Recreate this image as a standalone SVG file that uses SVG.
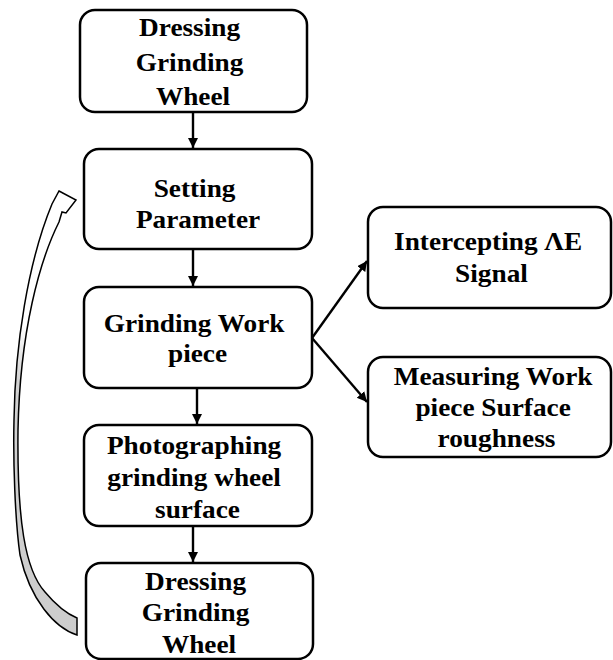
<svg xmlns="http://www.w3.org/2000/svg" width="613" height="660" viewBox="0 0 613 660">
  <style>
    .box { fill: #ffffff; stroke: #000000; stroke-width: 2.5; }
    .lbl { font-family: "Liberation Serif", "Times New Roman", serif; font-weight: bold; font-size: 26px; fill: #000000; text-anchor: middle; }
    .flow { fill: none; stroke: #000000; stroke-width: 2.4; marker-end: url(#head); }
    .loop { stroke: #000000; stroke-width: 1.5; stroke-linejoin: miter; }
  </style>
  <defs>
    <marker id="head" markerUnits="userSpaceOnUse" markerWidth="12" markerHeight="12" refX="10" refY="5" orient="auto">
      <path d="M0,0 L10,5 L0,10 Z" fill="#000000"/>
    </marker>
    <linearGradient id="ribbon" gradientUnits="userSpaceOnUse" x1="0" y1="180" x2="0" y2="660">
      <stop offset="0" stop-color="#ffffff"/>
      <stop offset="0.3" stop-color="#ffffff"/>
      <stop offset="0.42" stop-color="#d2d2d2"/>
      <stop offset="1" stop-color="#cccccc"/>
    </linearGradient>
  </defs>

  <!-- return loop: curved block arrow back to the parameter step -->
  <g id="loop-arrow">
    <path class="loop" fill="url(#ribbon)" d="M59,191 L76,200 L66,213 L62,212 L59,222 C40,260 20,330 18,430 C17,520 25,570 45,592 C55,604 65,613 77,618 L77,635 C55,628 30,600 20,555 C15,520 13,460 14,420 C15,345 28,262 52,204 Z"/>
  </g>

  <g id="connectors">
    <line class="flow" x1="193" y1="112" x2="193" y2="148"/>
    <line class="flow" x1="193" y1="250" x2="193" y2="286"/>
    <line class="flow" x1="197" y1="389" x2="197" y2="424"/>
    <line class="flow" x1="193" y1="527" x2="193" y2="562"/>
    <line class="flow" x1="312" y1="338" x2="367" y2="261"/>
    <line class="flow" x1="312" y1="338" x2="367" y2="402"/>
  </g>

  <g id="dress-1">
    <rect class="box" x="80" y="10" width="227" height="102" rx="15"/>
    <text class="lbl" transform="translate(193 0) scale(1.05 1)">
      <tspan x="0" y="36">Dressing</tspan>
      <tspan x="0" y="71">Grinding</tspan>
      <tspan x="0" y="105">Wheel</tspan>
    </text>
  </g>

  <g id="setting">
    <rect class="box" x="84" y="149" width="228" height="100" rx="15"/>
    <text class="lbl" transform="translate(198 0) scale(1.05 1)">
      <tspan x="0" y="197">Setting</tspan>
      <tspan x="0" y="228">Parameter</tspan>
    </text>
  </g>

  <g id="grinding">
    <rect class="box" x="84" y="287" width="228" height="101" rx="15"/>
    <text class="lbl" transform="translate(197.5 0) scale(1.05 1)">
      <tspan x="0" y="332">Grinding Work</tspan>
      <tspan x="0" y="362">piece</tspan>
    </text>
  </g>

  <g id="photo">
    <rect class="box" x="84" y="425" width="228" height="101" rx="15"/>
    <text class="lbl" transform="translate(197.5 0) scale(1.05 1)">
      <tspan x="0" y="454">Photographing</tspan>
      <tspan x="0" y="486">grinding wheel</tspan>
      <tspan x="0" y="518">surface</tspan>
    </text>
  </g>

  <g id="dress-2">
    <rect class="box" x="86" y="563" width="227" height="96" rx="15"/>
    <text class="lbl" transform="translate(199 0) scale(1.05 1)">
      <tspan x="0" y="590">Dressing</tspan>
      <tspan x="0" y="621">Grinding</tspan>
      <tspan x="0" y="653">Wheel</tspan>
    </text>
  </g>

  <g id="ae-signal">
    <rect class="box" x="368" y="207" width="243" height="101" rx="15"/>
    <text class="lbl" transform="translate(491.5 0) scale(1.05 1)">
      <tspan x="0" y="250">Intercepting ΛE</tspan>
      <tspan x="0" y="282">Signal</tspan>
    </text>
  </g>

  <g id="roughness">
    <rect class="box" x="368" y="357" width="243" height="100" rx="15"/>
    <text class="lbl" transform="translate(496.5 0) scale(1.05 1)">
      <tspan x="0" y="385">Measuring Work</tspan>
      <tspan x="0" y="416">piece Surface</tspan>
      <tspan x="0" y="447">roughness</tspan>
    </text>
  </g>
</svg>
